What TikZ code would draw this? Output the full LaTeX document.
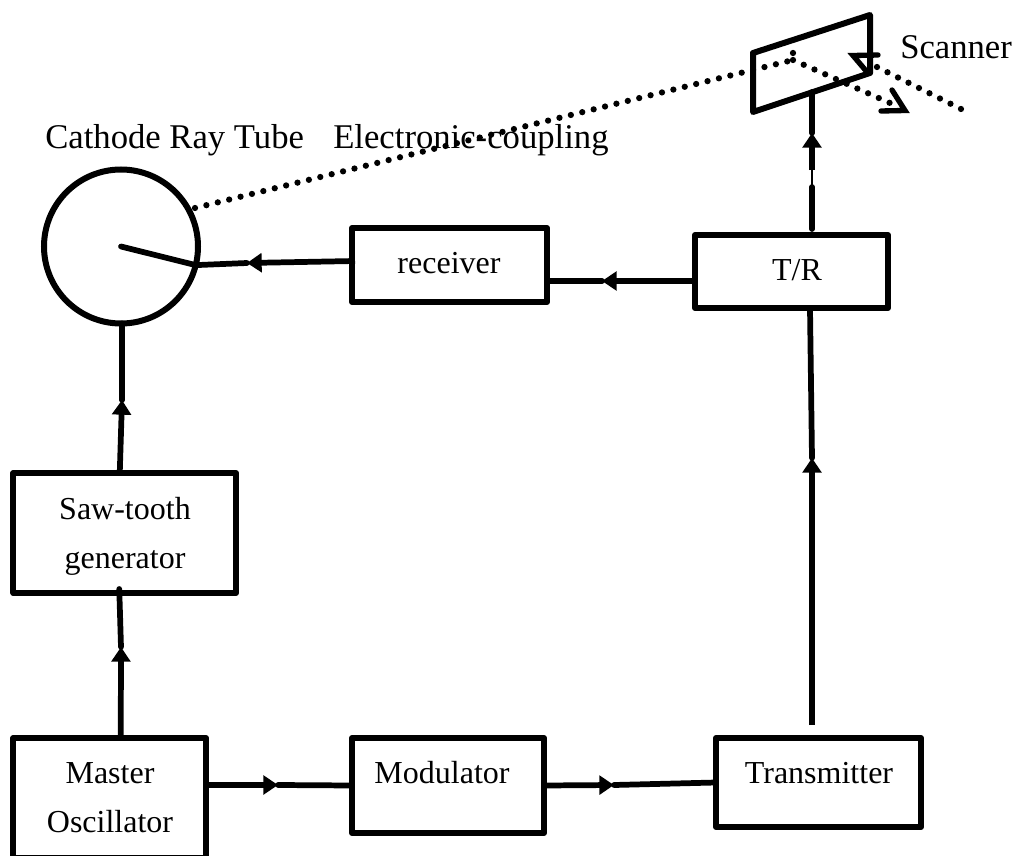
\documentclass[tikz,border=0pt]{standalone}
\usepackage{fontspec}
\setmainfont{Liberation Serif}
\usetikzlibrary{arrows.meta,calc}
\tikzset{
  x=0.75pt,y=-0.75pt,
  blockbox/.style={draw=black,line width=4.5pt,line join=round,rectangle,inner sep=0pt,outer sep=0pt},
  tubeshape/.style={draw=black,line width=4.5pt,circle,inner sep=0pt,outer sep=0pt,minimum size=115.5pt},
  wire/.style={draw=black,line width=4.3pt,line cap=round},
  headed/.style={draw=black,line width=4.3pt,-{Triangle[length=11pt,width=14pt,sep=0pt]}},
  thinwire/.style={draw=black,line width=0.8pt},
  dotline/.style={draw=black,line width=4.7pt,line cap=round,dash pattern=on 0pt off 8.8pt},
  openhead/.style={draw=black,line width=4pt,line cap=round,line join=miter},
  boxtext/.style={font=\fontsize{24}{24}\selectfont,anchor=base,inner sep=0pt},
  bigtext/.style={font=\fontsize{26}{26}\selectfont,anchor=base west,inner sep=0pt}
}
\begin{document}
\begin{tikzpicture}
\path[use as bounding box,clip] (0,0) rectangle (1022,856);
% blocks
\node[tubeshape] (crt) at (121,246.5) {};
\node[blockbox,minimum width=146.25pt,minimum height=55.5pt] (recv) at (449.5,265) {};
\node[blockbox,minimum width=144.75pt,minimum height=54.75pt] (tr) at (791.5,271.5) {};
\node[blockbox,minimum width=166.9pt,minimum height=90pt] (saw) at (124.75,533) {};
\node[blockbox,minimum width=144.4pt,minimum height=90pt] (master) at (109.75,798) {};
\node[blockbox,minimum width=144pt,minimum height=71.25pt] (mod) at (448,785.5) {};
\node[blockbox,minimum width=153.75pt,minimum height=66.75pt] (trans) at (818.5,782.5) {};
% scanner
\coordinate (sa) at (753,53);
\coordinate (sb) at (870,15);
\coordinate (sc) at (870,73);
\coordinate (sd) at (753,112);
\draw[blockbox] (sa) -- (sb) -- (sc) -- (sd) -- cycle;
% labels
\node[bigtext] (lcrt) at (45,148) {Cathode Ray Tube};
\node[bigtext] (lec) at (333,149) {Electronic-coupling};
\node[bigtext] (lscan) at (900,59) {Scanner};
\node[boxtext] (t1) at (449,273) {receiver};
\node[boxtext] (t2) at (797,280) {T/R};
\node[boxtext] (t3) at (125,519) {Saw-tooth};
\node[boxtext] (t4) at (125,568) {generator};
\node[boxtext] (t5) at (110,783) {Master};
\node[boxtext] (t6) at (110,832) {Oscillator};
\node[boxtext] (t7) at (442,783) {Modulator};
\node[boxtext] (t8) at (819,783) {Transmitter};
% connectors
\coordinate (a1) at (121,647);
\draw[headed] ($(master.north)+(11,0)$) -- (a1);
\draw[wire] (a1) -- ($(saw.south)+(-5.5,-4)$);
\coordinate (a2) at (122,400);
\draw[headed] ($(saw.north)+(-5,0)$) -- (a2);
\draw[wire] (a2) -- ($(crt.south)+(1,0)$);
\draw[wire] (crt.center) -- (crt.-14);
\coordinate (a3) at (247,263);
\draw[headed] ($(recv.west)+(3,-4)$) -- (a3);
\draw[wire] (a3) -- (crt.-14);
\coordinate (a4) at (602,281);
\draw[headed] ($(tr.west)+(0,9.5)$) -- (a4);
\draw[wire] (a4) -- ($(recv.east)+(0,16)$);
\coordinate (a5) at (278,785);
\draw[headed] ($(master.east)+(0,-13)$) -- (a5);
\draw[wire] (a5) -- (mod.west);
\coordinate (a6) at (614,785);
\draw[headed] (mod.east) -- (a6);
\draw[wire] (a6) -- (trans.west);
\coordinate (a7) at (812,458);
\draw[headed] ($(trans.north)+(-6.5,-13)$) -- (a7);
\draw[wire] (a7) -- ($(tr.south)+(18.5,0)$);
% T/R to scanner, thinned stretch
\coordinate (v0) at ($(tr.north)+(20.5,-6)$);
\coordinate (v1) at (812,187);
\coordinate (v2) at (812,170);
\coordinate (a8) at (812,133);
\coordinate (v3) at (812,92);
\draw[wire] (v0) -- (v1);
\draw[thinwire] (v1) -- (v2);
\draw[headed] (v2) -- (a8);
\draw[wire] (a8) -- (v3);
% electronic coupling and beam
\coordinate (d0) at (195,208);
\coordinate (d1) at (793,60);
\coordinate (d1b) at (793,53);
\coordinate (d2) at (890,103);
\coordinate (d3) at (877,67);
\coordinate (d4) at (963,110);
\draw[dotline] (d0) -- (d1);
\draw[dotline] (d1) -- (d2);
\draw[dotline] (d1b) -- ++(0.01,0);
\draw[dotline] (d3) -- (d4);
% open arrowheads
\draw[openhead] (892,90) -- (905,110.5) -- (881,111);
\draw[openhead] (878,55) -- (853,55.5) -- (867,72);
\end{tikzpicture}
\end{document}
